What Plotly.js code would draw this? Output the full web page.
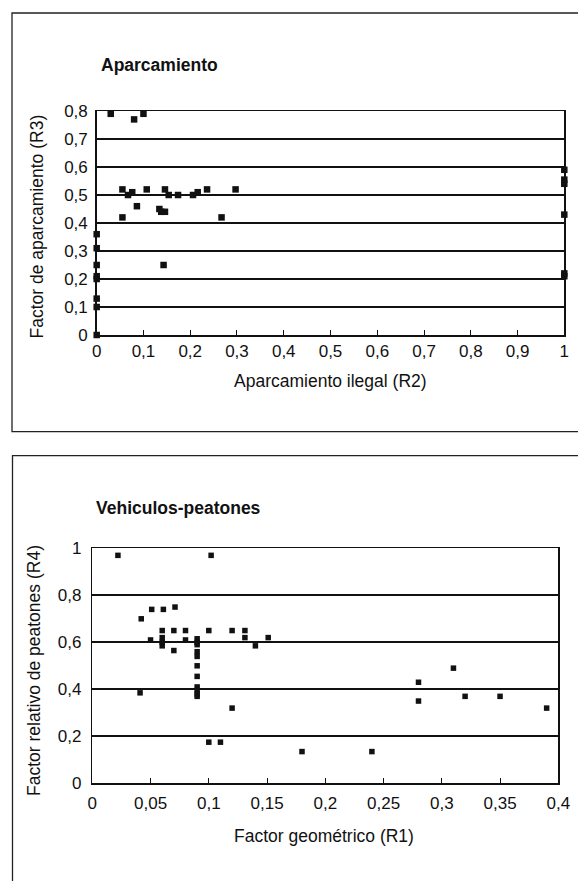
<!DOCTYPE html>
<html>
<head>
<meta charset="utf-8">
<script src="https://cdn.plot.ly/plotly-3.0.1.min.js"></script>
<style>
html,body{margin:0;padding:0;background:#fff;}
#chart{width:578px;height:881px;}
</style>
</head>
<body>
<div id="chart"></div>
<script>
// ---- Chart 1: Aparcamiento ----
const titleTop = "Aparcamiento";
const xTitleTop = "Aparcamiento ilegal (R2)";
const yTitleTop = "Factor de aparcamiento (R3)";
const r2 = [0, 0, 0, 0, 0, 0, 0, 0,
            1, 1, 1, 1, 1, 1,
            0.03, 0.08, 0.10, 0.055, 0.055, 0.067, 0.076, 0.086, 0.107, 0.134, 0.138,
            0.146, 0.146, 0.154, 0.174, 0.143, 0.206, 0.216, 0.236, 0.267, 0.297];
const r3 = [0.36, 0.31, 0.25, 0.21, 0.20, 0.13, 0.10, 0.0,
            0.59, 0.555, 0.54, 0.43, 0.22, 0.21,
            0.79, 0.77, 0.79, 0.52, 0.42, 0.50, 0.51, 0.46, 0.52, 0.45, 0.44,
            0.44, 0.52, 0.50, 0.50, 0.25, 0.50, 0.51, 0.52, 0.42, 0.52];
const xTicksTop = [0, 0.1, 0.2, 0.3, 0.4, 0.5, 0.6, 0.7, 0.8, 0.9, 1];
const xLabelsTop = ["0", "0,1", "0,2", "0,3", "0,4", "0,5", "0,6", "0,7", "0,8", "0,9", "1"];
const yTicksTop = [0, 0.1, 0.2, 0.3, 0.4, 0.5, 0.6, 0.7, 0.8];
const yLabelsTop = ["0", "0,1", "0,2", "0,3", "0,4", "0,5", "0,6", "0,7", "0,8"];

// ---- Chart 2: Vehiculos-peatones ----
const titleBot = "Vehiculos-peatones";
const xTitleBot = "Factor geométrico (R1)";
const yTitleBot = "Factor relativo de peatones (R4)";
const r1 = [0.022, 0.102, 0.042, 0.051, 0.061, 0.071, 0.06, 0.07, 0.08, 0.10, 0.12, 0.131, 0.131,
            0.151, 0.14, 0.05, 0.06, 0.06, 0.06, 0.07, 0.08,
            0.09, 0.09, 0.09, 0.09, 0.09, 0.09, 0.09, 0.09, 0.09, 0.09, 0.09,
            0.041, 0.12, 0.10, 0.11, 0.18, 0.24, 0.28, 0.28, 0.31, 0.32, 0.35, 0.39];
const r4 = [0.97, 0.97, 0.70, 0.74, 0.74, 0.75, 0.65, 0.65, 0.65, 0.65, 0.65, 0.65, 0.62,
            0.62, 0.585, 0.61, 0.62, 0.60, 0.585, 0.565, 0.61,
            0.615, 0.60, 0.59, 0.56, 0.54, 0.50, 0.455, 0.41, 0.395, 0.38, 0.37,
            0.385, 0.32, 0.175, 0.175, 0.135, 0.135, 0.43, 0.35, 0.49, 0.37, 0.37, 0.32];
const xTicksBot = [0, 0.05, 0.1, 0.15, 0.2, 0.25, 0.3, 0.35, 0.4];
const xLabelsBot = ["0", "0,05", "0,1", "0,15", "0,2", "0,25", "0,3", "0,35", "0,4"];
const yTicksBot = [0, 0.2, 0.4, 0.6, 0.8, 1];
const yLabelsBot = ["0", "0,2", "0,4", "0,6", "0,8", "1"];

const W = 578, H = 881;
const px = v => v / W;
const py = v => 1 - v / H;
const FONT = "Liberation Sans, Arial, sans-serif";
const INK = "#111111";

const traces = [
  {type: "scatter", mode: "markers", x: r2, y: r3, xaxis: "x", yaxis: "y",
   marker: {symbol: "square", size: 6.5, color: INK}, cliponaxis: false, hoverinfo: "x+y"},
  {type: "scatter", mode: "markers", x: r1, y: r4, xaxis: "x2", yaxis: "y2",
   marker: {symbol: "square", size: 5.5, color: INK}, cliponaxis: false, hoverinfo: "x+y"}
];

const axisCommon = {
  showline: true, linecolor: INK, linewidth: 1.5, mirror: true,
  zeroline: false, tickfont: {family: FONT, size: 17, color: INK},
  tickmode: "array", fixedrange: true
};

const layout = {
  width: W, height: H,
  margin: {l: 0, r: 0, t: 0, b: 0},
  paper_bgcolor: "#fff", plot_bgcolor: "#fff",
  showlegend: false,
  font: {family: FONT, color: INK},
  xaxis: Object.assign({}, axisCommon, {
    domain: [px(96.7), px(564.3)], anchor: "y", range: [0, 1],
    tickvals: xTicksTop, ticktext: xLabelsTop,
    showgrid: false, ticks: "inside", ticklen: 5, tickcolor: INK, tickwidth: 1,
    ticklabelstandoff: 0
  }),
  yaxis: Object.assign({}, axisCommon, {
    domain: [py(335), py(111)], anchor: "x", range: [0, 0.8],
    tickvals: yTicksTop, ticktext: yLabelsTop,
    showgrid: true, gridcolor: INK, gridwidth: 1.6, ticks: "",
    ticklabelstandoff: 4
  }),
  xaxis2: Object.assign({}, axisCommon, {
    domain: [px(92.3), px(558.3)], anchor: "y2", range: [0, 0.4],
    tickvals: xTicksBot, ticktext: xLabelsBot,
    showgrid: false, ticks: "inside", ticklen: 5, tickcolor: INK, tickwidth: 1,
    ticklabelstandoff: 4
  }),
  yaxis2: Object.assign({}, axisCommon, {
    domain: [py(783.3), py(548.3)], anchor: "x2", range: [0, 1],
    tickvals: yTicksBot, ticktext: yLabelsBot,
    showgrid: true, gridcolor: INK, gridwidth: 1.6, ticks: "",
    ticklabelstandoff: 6
  }),
  shapes: [
    {type: "rect", xref: "paper", yref: "paper",
     x0: px(12), x1: 1.05, y0: py(431.7), y1: py(13),
     line: {color: "#222", width: 1.3}, fillcolor: "rgba(0,0,0,0)", layer: "below"},
    {type: "rect", xref: "paper", yref: "paper",
     x0: px(12.5), x1: 1.05, y0: -0.05, y1: py(455.7),
     line: {color: "#222", width: 1.3}, fillcolor: "rgba(0,0,0,0)", layer: "below"}
  ],
  annotations: [
    {text: titleTop, xref: "paper", yref: "paper", x: px(99), y: py(65),
     xanchor: "left", yanchor: "middle", showarrow: false,
     font: {family: FONT, size: 17.5, color: INK, weight: "bold"}},
    {text: xTitleTop, xref: "paper", yref: "paper", x: px(330.5), y: py(381),
     xanchor: "center", yanchor: "middle", showarrow: false,
     font: {family: FONT, size: 17.5, color: INK}},
    {text: yTitleTop, xref: "paper", yref: "paper", x: px(36), y: py(226.5),
     xanchor: "center", yanchor: "middle", showarrow: false, textangle: -90,
     font: {family: FONT, size: 17.5, color: INK}},
    {text: titleBot, xref: "paper", yref: "paper", x: px(94), y: py(508),
     xanchor: "left", yanchor: "middle", showarrow: false,
     font: {family: FONT, size: 17.5, color: INK, weight: "bold"}},
    {text: xTitleBot, xref: "paper", yref: "paper", x: px(324), y: py(836),
     xanchor: "center", yanchor: "middle", showarrow: false,
     font: {family: FONT, size: 17.5, color: INK}},
    {text: yTitleBot, xref: "paper", yref: "paper", x: px(34), y: py(671),
     xanchor: "center", yanchor: "middle", showarrow: false, textangle: -90,
     font: {family: FONT, size: 17.5, color: INK}}
  ]
};

Plotly.newPlot("chart", traces, layout, {displayModeBar: false, staticPlot: true});
</script>
</body>
</html>
